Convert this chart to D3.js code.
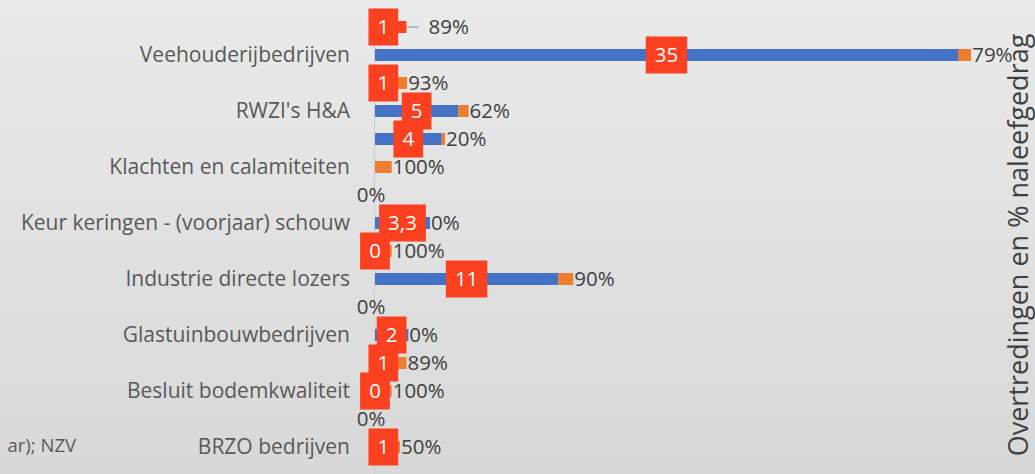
<!DOCTYPE html>
<html>
<head>
<meta charset="utf-8">
<script src="https://cdn.jsdelivr.net/npm/d3@7"></script>
<style>
html,body{margin:0;padding:0;overflow:hidden;}
svg{display:block;font-family:"Open Sans",sans-serif;}
</style>
</head>
<body>
<svg id="chart" width="1035" height="474"></svg>
<script>
// ── Data (top row first). Empty label = in-between row of the clustered chart ──
const rowLabels=["","Veehouderijbedrijven","","RWZI's H&A","","Klachten en calamiteiten","",
  "Keur keringen - (voorjaar) schouw","","Industrie directe lozers","","Glastuinbouwbedrijven","",
  "Besluit bodemkwaliteit","","BRZO bedrijven"];
// number of violations (null = no data label shown)
const overtredingen=[1,35,1,5,4,null,null,3.3,0,11,null,2,1,0,null,1];
// % compliance, stacked after the violations as a fraction
const naleefPct=[89,79,93,62,20,100,0,0,100,90,0,0,89,100,0,50];
const axisTitle="Overtredingen en % naleefgedrag";
const footnote="ar); NZV";

const COL={blue:'#4472C4',orange:'#ED7D31',box:'#FC4120',txt:'#595959',val:'#404040',axis:'#cfcfcf',leader:'#a6a6a6'};
const CALLOUT_ROW=0;

const W=1035,H=474;
const svg=d3.select('#chart');

// background gradient
const defs=svg.append('defs');
const grad=defs.append('linearGradient').attr('id','bg').attr('x1',0).attr('y1',0).attr('x2',0).attr('y2',1);
grad.append('stop').attr('offset','0%').attr('stop-color','#eaeaea');
grad.append('stop').attr('offset','100%').attr('stop-color','#d8d8d8');
svg.append('rect').attr('width',W).attr('height',H).attr('fill','url(#bg)');

const rows=d3.range(rowLabels.length);
const y=d3.scalePoint().domain(rows).range([27,447]);
const x=d3.scaleLinear().domain([0,40]).range([375,375+40*583/35]);
const BAR_H=12;

const nl=d3.formatLocale({decimal:',',thousands:'.',grouping:[3],currency:['€','']});
const fmt=nl.format('~g');

// category axis line
svg.append('line').attr('x1',x(0)-0.5).attr('x2',x(0)-0.5).attr('y1',8).attr('y2',H)
  .attr('stroke',COL.axis).attr('stroke-width',1.2);

// category labels
svg.append('g').selectAll('text').data(rows.filter(i=>rowLabels[i])).join('text')
  .attr('x',350).attr('y',i=>y(i)).attr('dy','0.35em')
  .attr('text-anchor','end').attr('font-size',21).attr('fill',COL.txt)
  .text(i=>rowLabels[i]);

const v=i=>overtredingen[i]||0;

// blue bars
svg.append('g').selectAll('rect').data(rows.filter(i=>v(i)>0)).join('rect')
  .attr('x',x(0)).attr('y',i=>y(i)-BAR_H/2)
  .attr('width',i=>x(v(i))-x(0)).attr('height',BAR_H).attr('fill',COL.blue);

// orange stacked bars
svg.append('g').selectAll('rect').data(rows.filter(i=>naleefPct[i]>0)).join('rect')
  .attr('x',i=>x(v(i))).attr('y',i=>y(i)-BAR_H/2)
  .attr('width',i=>x(v(i)+naleefPct[i]/100)-x(v(i))).attr('height',BAR_H)
  .attr('fill',i=>i===CALLOUT_ROW?COL.box:COL.orange);

// percent labels
const endX=i=>x(v(i)+naleefPct[i]/100);
svg.append('line').attr('x1',endX(CALLOUT_ROW)).attr('x2',endX(CALLOUT_ROW)+12)
  .attr('y1',y(CALLOUT_ROW)).attr('y2',y(CALLOUT_ROW)).attr('stroke',COL.leader).attr('stroke-width',1.5);
svg.append('g').selectAll('text').data(rows).join('text')
  .attr('x',i=>{
    if(i===CALLOUT_ROW)return endX(i)+22;
    return endX(i)===x(0)?x(0)-4:endX(i)+1;
  })
  .attr('text-anchor',i=>endX(i)===x(0)?'middle':'start')
  .attr('y',i=>y(i)).attr('dy','0.36em')
  .attr('font-size',20.5).attr('fill',COL.val)
  .text(i=>naleefPct[i]+'%');

// count callout boxes
const boxes=svg.append('g').selectAll('g').data(rows.filter(i=>overtredingen[i]!=null)).join('g')
  .attr('transform',i=>`translate(${(x(0)+x(v(i)))/2},${y(i)})`);
boxes.append('text').attr('text-anchor','middle').attr('dy','0.36em')
  .attr('font-size',20.5).attr('fill','#fff').text(i=>fmt(overtredingen[i]));
boxes.each(function(){
  const g=d3.select(this),t=g.select('text');
  const w=t.node().getComputedTextLength()+18;
  g.insert('rect','text').attr('x',-w/2).attr('y',-18.5).attr('width',w).attr('height',37).attr('fill',COL.box);
});

// secondary axis title (cropped chart)
svg.append('text').attr('transform','translate(1028,245) rotate(-90)')
  .attr('text-anchor','middle').attr('font-size',27).attr('fill',COL.val).text(axisTitle);

// cropped footnote
svg.append('text').attr('x',76).attr('y',452).attr('text-anchor','end')
  .attr('font-size',18.5).attr('fill',COL.txt).text(footnote);
</script>
</body>
</html>
